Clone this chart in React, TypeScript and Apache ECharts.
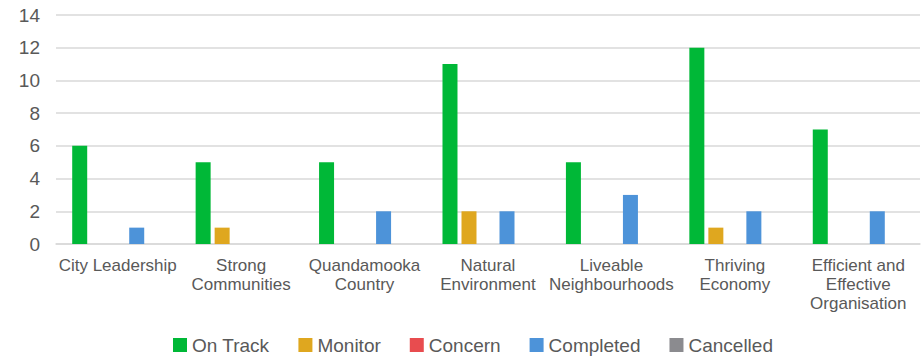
import React, { useEffect, useRef } from "react";
import * as echarts from "echarts";

const categories = [
  "City Leadership",
  "Strong\nCommunities",
  "Quandamooka\nCountry",
  "Natural\nEnvironment",
  "Liveable\nNeighbourhoods",
  "Thriving\nEconomy",
  "Efficient and\nEffective\nOrganisation",
];
const onTrack = [6, 5, 5, 11, 5, 12, 7];
const monitor = [0, 1, 0, 2, 0, 1, 0];
const concern = [0, 0, 0, 0, 0, 0, 0];
const completed = [1, 0, 2, 2, 3, 2, 2];
const cancelled = [0, 0, 0, 0, 0, 0, 0];

const seriesDefs = [
  { name: "On Track", data: onTrack, color: "#00b837" },
  { name: "Monitor", data: monitor, color: "#dfa71f" },
  { name: "Concern", data: concern, color: "#e84c4f" },
  { name: "Completed", data: completed, color: "#4d93d9" },
  { name: "Cancelled", data: cancelled, color: "#8b8b8f" },
];

const FONT = "'Liberation Sans', Arial, sans-serif";

export default function App() {
  const ref = useRef<HTMLDivElement>(null);
  useEffect(() => {
    document.body.style.margin = "0";
    const chart = echarts.init(ref.current!, null, { renderer: "svg" });
    chart.setOption({
      animation: false,
      textStyle: { fontFamily: FONT },
      grid: { left: 56, right: 3, top: 15, bottom: 114, containLabel: false },
      legend: {
        left: 173,
        top: 334,
        padding: 0,
        itemWidth: 14,
        itemHeight: 14,
        itemGap: 29,
        icon: "rect",
        textStyle: { fontSize: 19, color: "#595959", fontFamily: FONT, lineHeight: 22 },
        data: seriesDefs.map((s) => s.name),
      },
      xAxis: {
        type: "category",
        data: categories,
        axisLine: { lineStyle: { color: "#d9d9d9", width: 1.5 } },
        axisTick: { show: false },
        axisLabel: {
          interval: 0,
          fontSize: 17,
          color: "#595959",
          lineHeight: 19,
          margin: 12,
          fontFamily: FONT,
        },
      },
      yAxis: {
        type: "value",
        min: 0,
        max: 14,
        interval: 2,
        axisLine: { show: false },
        axisTick: { show: false },
        splitLine: { lineStyle: { color: "#d9d9d9", width: 1.5 } },
        axisLabel: { fontSize: 19, color: "#595959", margin: 16, fontFamily: FONT },
      },
      series: seriesDefs.map((s) => ({
        name: s.name,
        type: "bar",
        data: s.data,
        barWidth: 15,
        barGap: "26.7%",
        itemStyle: { color: s.color },
      })),
    });
    return () => chart.dispose();
  }, []);
  return <div ref={ref} style={{ width: 923, height: 358 }} />;
}
